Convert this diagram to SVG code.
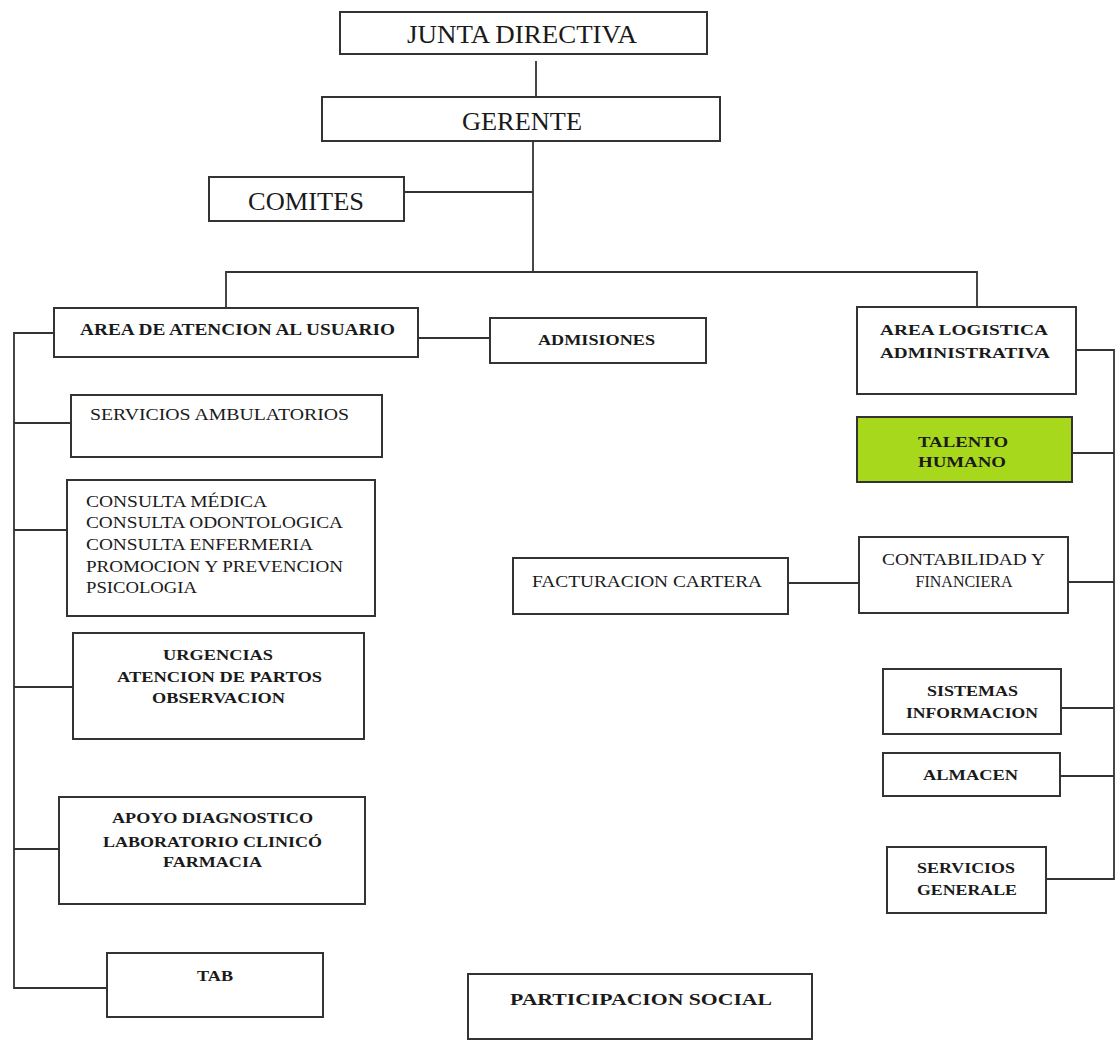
<svg xmlns="http://www.w3.org/2000/svg" width="1117" height="1052" viewBox="0 0 1117 1052">
<style>
.box{fill:#fff;stroke:#333;stroke-width:2}
.green{fill:#a8d81c;stroke:#333;stroke-width:2}
.ln{fill:none;stroke:#333;stroke-width:1.8}
text{font-family:"Liberation Serif","Times New Roman",serif;fill:#1a1a1a}
.big{font-size:25px}
.b{font-weight:bold;font-size:15px}
.r{font-size:16px}
.c{text-anchor:middle}
</style>
<rect width="1117" height="1052" fill="#fff"/>
<g id="connectors">
<path class="ln" d="M536 61V97"/>
<path class="ln" d="M533 141V272"/>
<path class="ln" d="M404 192H533"/>
<path class="ln" d="M226 308V272H977V307"/>
<path class="ln" d="M54 333H14V988H107"/>
<path class="ln" d="M14 423H71"/>
<path class="ln" d="M14 530H67"/>
<path class="ln" d="M14 687H73"/>
<path class="ln" d="M14 849H59"/>
<path class="ln" d="M418 338H490"/>
<path class="ln" d="M1076 350H1114V879H1046"/>
<path class="ln" d="M1072 453H1114"/>
<path class="ln" d="M1068 582H1114"/>
<path class="ln" d="M1061 708H1114"/>
<path class="ln" d="M1060 776H1114"/>
<path class="ln" d="M788 583H859"/>
</g>
<g id="junta"><rect class="box" x="340" y="12" width="367" height="42"/><text class="big" x="407" y="43" textLength="230" lengthAdjust="spacingAndGlyphs">JUNTA DIRECTIVA</text></g>
<g id="gerente"><rect class="box" x="322" y="97" width="398" height="44"/><text class="big" x="462" y="130" textLength="120" lengthAdjust="spacingAndGlyphs">GERENTE</text></g>
<g id="comites"><rect class="box" x="209" y="177" width="195" height="44"/><text class="big" x="248" y="210" textLength="116" lengthAdjust="spacingAndGlyphs">COMITES</text></g>
<g id="area-atencion"><rect class="box" x="54" y="308" width="364" height="49"/><text class="b" style="font-size:16px" x="80" y="335" textLength="315" lengthAdjust="spacingAndGlyphs">AREA DE ATENCION AL USUARIO</text></g>
<g id="admisiones"><rect class="box" x="490" y="318" width="216" height="45"/><text class="b" x="538" y="345" textLength="117" lengthAdjust="spacingAndGlyphs">ADMISIONES</text></g>
<g id="area-logistica"><rect class="box" x="857" y="307" width="219" height="87"/><text class="b" x="880" y="335" textLength="168" lengthAdjust="spacingAndGlyphs">AREA LOGISTICA</text><text class="b" x="880" y="358" textLength="170" lengthAdjust="spacingAndGlyphs">ADMINISTRATIVA</text></g>
<g id="servicios-ambulatorios"><rect class="box" x="71" y="395" width="311" height="62"/><text class="r" x="90" y="420" textLength="259" lengthAdjust="spacingAndGlyphs">SERVICIOS  AMBULATORIOS</text></g>
<g id="consulta"><rect class="box" x="67" y="480" width="308" height="136"/>
<text class="r" x="86" y="507" textLength="181" lengthAdjust="spacingAndGlyphs">CONSULTA MÉDICA</text>
<text class="r" x="86" y="528" textLength="257" lengthAdjust="spacingAndGlyphs">CONSULTA ODONTOLOGICA</text>
<text class="r" x="86" y="550" textLength="227" lengthAdjust="spacingAndGlyphs">CONSULTA ENFERMERIA</text>
<text class="r" x="86" y="572" textLength="257" lengthAdjust="spacingAndGlyphs">PROMOCION Y PREVENCION</text>
<text class="r" x="86" y="593" textLength="111" lengthAdjust="spacingAndGlyphs">PSICOLOGIA</text></g>
<g id="urgencias"><rect class="box" x="73" y="633" width="291" height="106"/>
<text class="b" x="163" y="660" textLength="110" lengthAdjust="spacingAndGlyphs">URGENCIAS</text>
<text class="b" x="117" y="682" textLength="205" lengthAdjust="spacingAndGlyphs">ATENCION DE PARTOS</text>
<text class="b" x="152" y="703" textLength="133" lengthAdjust="spacingAndGlyphs">OBSERVACION</text></g>
<g id="apoyo"><rect class="box" x="59" y="797" width="306" height="107"/>
<text class="b" x="112" y="823" textLength="201" lengthAdjust="spacingAndGlyphs">APOYO DIAGNOSTICO</text>
<text class="b" x="103" y="847" textLength="219" lengthAdjust="spacingAndGlyphs">LABORATORIO CLINICÓ</text>
<text class="b" x="163" y="867" textLength="99" lengthAdjust="spacingAndGlyphs">FARMACIA</text></g>
<g id="tab"><rect class="box" x="107" y="953" width="216" height="64"/><text class="b" x="197" y="981" textLength="36" lengthAdjust="spacingAndGlyphs">TAB</text></g>
<g id="talento"><rect class="green" x="857" y="417" width="215" height="65"/><text class="b" x="918" y="447" textLength="90" lengthAdjust="spacingAndGlyphs">TALENTO</text><text class="b" x="918" y="467" textLength="88" lengthAdjust="spacingAndGlyphs">HUMANO</text></g>
<g id="contabilidad"><rect class="box" x="859" y="537" width="209" height="76"/><text class="r" x="882" y="565" textLength="163" lengthAdjust="spacingAndGlyphs">CONTABILIDAD Y</text><text class="r c" x="964" y="587">FINANCIERA</text></g>
<g id="facturacion"><rect class="box" x="513" y="558" width="275" height="56"/><text class="r" x="532" y="587" textLength="230" lengthAdjust="spacingAndGlyphs">FACTURACION CARTERA</text></g>
<g id="sistemas"><rect class="box" x="883" y="669" width="178" height="65"/><text class="b" x="927" y="696" textLength="91" lengthAdjust="spacingAndGlyphs">SISTEMAS</text><text class="b" x="906" y="718" textLength="132" lengthAdjust="spacingAndGlyphs">INFORMACION</text></g>
<g id="almacen"><rect class="box" x="883" y="753" width="177" height="43"/><text class="b" x="923" y="780" textLength="95" lengthAdjust="spacingAndGlyphs">ALMACEN</text></g>
<g id="servicios-generale"><rect class="box" x="887" y="847" width="159" height="66"/><text class="b" x="917" y="873" textLength="98" lengthAdjust="spacingAndGlyphs">SERVICIOS</text><text class="b" x="917" y="895" textLength="100" lengthAdjust="spacingAndGlyphs">GENERALE</text></g>
<g id="participacion"><rect class="box" x="468" y="974" width="344" height="65"/><text class="b" style="font-size:17px" x="510" y="1005" textLength="262" lengthAdjust="spacingAndGlyphs">PARTICIPACION SOCIAL</text></g>
</svg>
